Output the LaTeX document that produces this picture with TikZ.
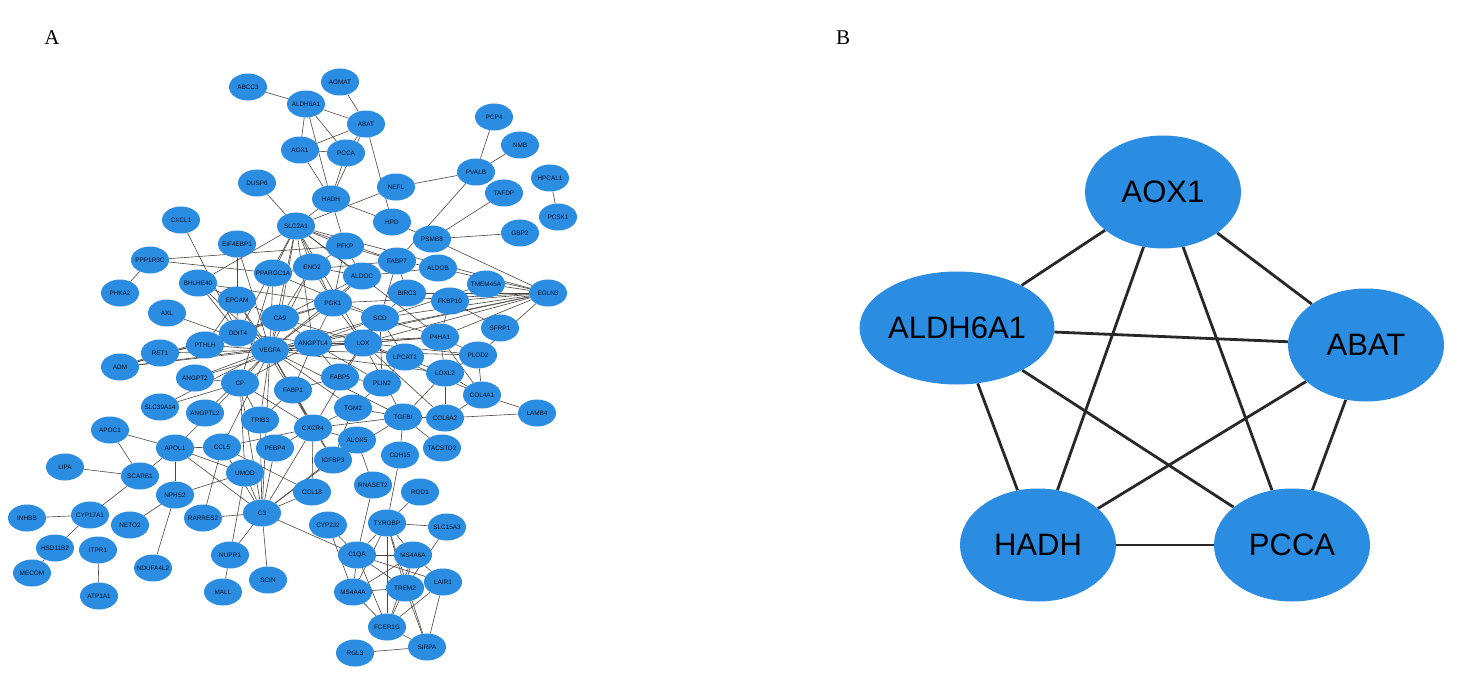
\documentclass[tikz,border=0pt]{standalone}
\usepackage{fontspec}
\setmainfont{Liberation Serif}
\setsansfont{Liberation Sans}
\usetikzlibrary{shapes.geometric,backgrounds}
\definecolor{nodeblue}{RGB}{43,141,226}
\definecolor{labelc}{RGB}{8,16,36}
\definecolor{edgec}{RGB}{75,70,66}
\definecolor{bedge}{RGB}{40,40,40}
\newcommand{\glab}[1]{\makebox[0pt][c]{#1}}
\tikzset{
  gn/.style={ellipse, fill=nodeblue, minimum width=38pt, minimum height=27pt, inner sep=0pt,
    font=\fontsize{6.4}{7}\selectfont\sffamily, text=labelc},
  ge/.style={draw=edgec, line width=0.6pt},
  bn/.style={ellipse, fill=nodeblue, minimum width=156pt, minimum height=113pt, inner sep=0pt,
    font=\fontsize{31}{36}\selectfont\sffamily, text=black},
  be/.style={draw=bedge, line width=2.8pt},
  panellab/.style={font=\fontsize{21}{24}\selectfont\rmfamily, text=black, inner sep=0pt}
}
\begin{document}
\begin{tikzpicture}[x=1pt,y=-1pt]
\path[use as bounding box] (0,0) rectangle (1461,677);
\node[panellab] (labA) at (52,38) {A};
\node[panellab] (labB) at (843,38) {B};
% ---------- panel A nodes ----------
\foreach \n/\x/\y in {ABCC3/248/87, AGMAT/340/82, ALDH6A1/306/104, ABAT/366/124, AOX1/300/150,
  PCCA/346/153, PCP4/494/117, NMB/520/145, PVALB/476/172, HPCAL1/550/178, DUSP6/257/183,
  NEFL/396/187, TAFDP/504/193, HADH/331/199, PCSK1/558/217, CXCL1/181/220, HPD/392/222,
  SLC2A1/296/226, PSMB8/432/239, GBP2/520/233, EIF4EBP1/237/244, PFKP/345/246, FABP7/397/261,
  PPP1R3C/150/260, ALDOB/438/268, ENO2/312/267, PPARGC1A/273/273, ALDOC/362/276,
  BHLHE40/198/283, TMEM45A/486/284, PHKA2/120/293, EGLN3/548/293, BIRC3/407/293,
  EPCAM/237/300, FKBP10/450/301, PGK1/333/303, AXL/167/313, CA9/280/318, SCD/380/318,
  SFRP1/500/328, DDIT4/238/333, P4HA1/440/337, LOX/363/343, ANGPTL4/313/343, PTHLH/205/345,
  VEGFA/270/350, RET1/160/353, PLOD2/478/355, LPCAT1/405/357, ADM/120/367, LOXL2/445/373,
  ANGPT2/195/378, FABP5/340/377, CP/240/383, PLIN2/382/383, FABP1/293/390, COL4A1/482/395,
  SLC39A14/160/407, TGM2/353/408, ANGPTL2/205/413, LAMB4/537/413, TGFBI/403/417,
  COL6A2/445/418, TRIB3/260/420, CXCR4/313/428, APOC1/110/430, ALOX5/357/440, CCL5/222/447,
  PEBP4/275/448, APOL1/175/448, TACSTD2/442/448, CDH15/400/455, IGFBP3/333/460, LIPA/65/467,
  UMOD/245/473, SCARB1/140/476, RNASET2/373/485, CCL18/312/492, ROD1/420/492, NPHS2/175/495,
  C3/262/513, CYP17A1/90/515, INHBB/27/518, RARRES2/203/518, TYROBP/387/523, CYP2J2/328/525,
  NETO2/130/525, SLC15A3/447/527, HSD11B2/55/548, ITPR1/98/550, NUPR1/230/555, C1QA/357/555,
  MS4A6A/413/555, NDUFA4L2/153/568, MECOM/32/573, SCIN/268/580, LAIR1/443/582, TREM2/405/588,
  MS4A4A/353/592, MALL/223/592, ATP1A1/99/596, FCER1G/387/627, SIRPA/427/647, RGL3/355/653}
  \node[gn] (\n) at (\x,\y) {\glab{\n}};
% ---------- panel B nodes ----------
\node[bn] (bAOX1) at (1163,192) {AOX1};
\node[bn] (bALDH6A1) at (957,328) {ALDH6A1};
\node[bn] (bABAT) at (1366,345) {ABAT};
\node[bn] (bHADH) at (1038,545) {HADH};
\node[bn] (bPCCA) at (1292,545) {PCCA};
\begin{pgfonlayer}{background}
\fill[white] (0,0) rectangle (1461,677);
\foreach \a/\b in {ABCC3/ALDH6A1, AGMAT/ABAT, ALDH6A1/ABAT, ALDH6A1/AOX1, ALDH6A1/PCCA,
  ALDH6A1/HADH, AOX1/ABAT, AOX1/PCCA, AOX1/HADH, PCCA/ABAT, PCCA/HADH, ABAT/HADH, ABAT/HPD,
  HADH/HPD, HADH/SLC2A1, HADH/PFKP, DUSP6/SLC2A1, NEFL/PVALB, NEFL/SLC2A1, PCP4/PVALB,
  NMB/PVALB, PVALB/FABP7, TAFDP/PSMB8, HPCAL1/PCSK1, PSMB8/GBP2, PSMB8/EGLN3, HPD/PSMB8,
  CXCL1/DDIT4, EIF4EBP1/EPCAM, EIF4EBP1/DDIT4, EIF4EBP1/VEGFA,
  SLC2A1/PFKP, SLC2A1/ENO2, SLC2A1/ALDOC, SLC2A1/PGK1, SLC2A1/CA9, SLC2A1/VEGFA,
  SLC2A1/PPARGC1A, SLC2A1/DDIT4, SLC2A1/ANGPTL4, SLC2A1/EGLN3, SLC2A1/BHLHE40, SLC2A1/LOX,
  SLC2A1/P4HA1, SLC2A1/FABP7,
  PFKP/ENO2, PFKP/ALDOC, PFKP/PGK1, PFKP/FABP7,
  ENO2/ALDOC, ENO2/PGK1, ENO2/CA9, ENO2/VEGFA, ENO2/PPARGC1A,
  ALDOC/PGK1, ALDOC/CA9, ALDOC/VEGFA, ALDOC/ALDOB,
  PGK1/CA9, PGK1/VEGFA, PGK1/ANGPTL4, PGK1/EGLN3, PGK1/DDIT4, PGK1/LOX, PGK1/P4HA1, PGK1/BHLHE40,
  CA9/VEGFA, CA9/ANGPTL4, CA9/DDIT4, CA9/LOX, CA9/ADM, CA9/BHLHE40,
  PPARGC1A/VEGFA, PPARGC1A/SCD, PPARGC1A/FABP7, PPARGC1A/PPP1R3C, PPARGC1A/CP,
  PPP1R3C/PHKA2, PPP1R3C/PFKP,
  BHLHE40/DDIT4, BHLHE40/VEGFA,
  EPCAM/VEGFA, EPCAM/PTHLH, EPCAM/CXCR4,
  DDIT4/VEGFA, DDIT4/ANGPTL4, DDIT4/ADM,
  PTHLH/VEGFA, PTHLH/RET1,
  VEGFA/ANGPTL4, VEGFA/LOX, VEGFA/CP, VEGFA/ANGPT2, VEGFA/ADM, VEGFA/CXCR4, VEGFA/IGFBP3,
  VEGFA/TGFBI, VEGFA/C3, VEGFA/CCL5, VEGFA/ANGPTL2, VEGFA/FABP1, VEGFA/TRIB3, VEGFA/AXL,
  VEGFA/RET1, VEGFA/EGLN3, VEGFA/P4HA1, VEGFA/LOXL2, VEGFA/SCD, VEGFA/PLOD2, VEGFA/TGM2,
  VEGFA/SLC39A14,
  ANGPTL4/LOX, ANGPTL4/EGLN3, ANGPTL4/PLIN2, ANGPTL4/FABP5, ANGPTL4/FABP1, ANGPTL4/SCD,
  ANGPTL4/P4HA1, ANGPTL4/ADM, ANGPTL4/ANGPT2, ANGPTL4/CP,
  LOX/P4HA1, LOX/PLOD2, LOX/LOXL2, LOX/COL4A1, LOX/TGFBI, LOX/COL6A2, LOX/EGLN3, LOX/CXCR4,
  SCD/FABP7, SCD/EGLN3, SCD/PLIN2, SCD/FABP5, SCD/LPCAT1, SCD/BIRC3, SCD/TMEM45A,
  P4HA1/PLOD2, P4HA1/EGLN3, P4HA1/LOXL2, P4HA1/COL4A1, P4HA1/FKBP10,
  PLOD2/LOXL2, PLOD2/COL4A1, PLOD2/EGLN3,
  FKBP10/EGLN3, FKBP10/SFRP1, BIRC3/EGLN3, ALDOB/EGLN3, ALDOB/FABP7, FABP7/BIRC3,
  TMEM45A/EGLN3, LPCAT1/PLIN2,
  LOXL2/COL4A1, LOXL2/COL6A2, LOXL2/TGFBI, COL4A1/COL6A2, COL4A1/LAMB4, COL6A2/LAMB4,
  COL6A2/TGFBI,
  TGFBI/TACSTD2, TGFBI/CDH15, TGFBI/CXCR4, TGFBI/TGM2, TGFBI/IGFBP3,
  PLIN2/FABP5, PLIN2/TGM2, FABP5/FABP1, FABP1/CXCR4, FABP1/TRIB3,
  CP/C3, CP/ANGPT2, CP/SLC39A14, CP/TRIB3, CP/APOL1, CP/UMOD,
  CXCR4/CCL5, CXCR4/CCL18, CXCR4/C3, CXCR4/TGM2, CXCR4/IGFBP3, CXCR4/ALOX5, CXCR4/CP,
  CXCR4/PEBP4,
  TGM2/IGFBP3, ALOX5/C3, ALOX5/RNASET2, CCL5/C3, CCL5/CCL18, CCL5/APOL1, IGFBP3/C3, UMOD/C3,
  UMOD/APOL1, UMOD/NPHS2, CCL18/C3, RNASET2/C1QA,
  C3/C1QA, C3/NUPR1, C3/SCIN, C3/APOL1, C3/RARRES2, C3/PEBP4, C3/TRIB3,
  NUPR1/MALL, NUPR1/UMOD,
  APOC1/APOL1, APOC1/SCARB1, LIPA/SCARB1, SCARB1/APOL1, SCARB1/CYP17A1,
  APOL1/NPHS2, NPHS2/NDUFA4L2, NPHS2/NETO2, RARRES2/CCL5, ADM/RET1,
  INHBB/CYP17A1, CYP17A1/HSD11B2, HSD11B2/MECOM, ITPR1/ATP1A1,
  CYP2J2/C1QA, CYP2J2/MS4A4A,
  C1QA/TYROBP, C1QA/MS4A6A, C1QA/MS4A4A, C1QA/TREM2, C1QA/FCER1G, C1QA/LAIR1,
  TYROBP/SLC15A3, TYROBP/MS4A6A, TYROBP/TREM2, TYROBP/FCER1G, TYROBP/MS4A4A, TYROBP/SIRPA,
  MS4A6A/TREM2, MS4A6A/FCER1G, MS4A6A/LAIR1, MS4A6A/MS4A4A, SLC15A3/TREM2,
  TREM2/FCER1G, TREM2/SIRPA, TREM2/MS4A4A, TREM2/LAIR1, LAIR1/FCER1G, LAIR1/SIRPA,
  FCER1G/SIRPA, FCER1G/MS4A4A, RGL3/SIRPA, ROD1/TYROBP, CDH15/TYROBP}
  \draw[ge] (\a) -- (\b);
\foreach \a/\b in {bAOX1/bALDH6A1, bAOX1/bABAT, bAOX1/bHADH, bAOX1/bPCCA, bALDH6A1/bABAT,
  bALDH6A1/bHADH, bALDH6A1/bPCCA, bABAT/bHADH, bABAT/bPCCA, bHADH/bPCCA}
  \draw[be] (\a) -- (\b);
\end{pgfonlayer}
\end{tikzpicture}
\end{document}
